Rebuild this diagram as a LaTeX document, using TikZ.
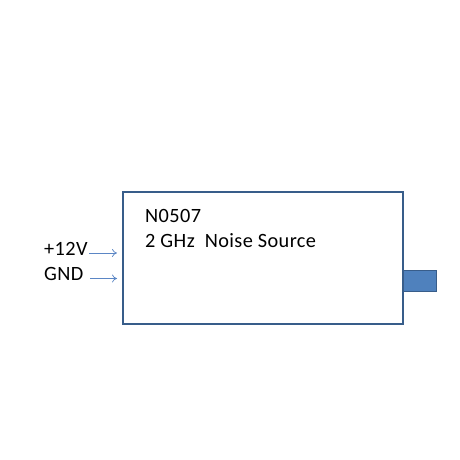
\documentclass[tikz,border=0pt]{standalone}
\usepackage{fontspec}
\setmainfont{Carlito}[LetterSpace=2]
\usetikzlibrary{arrows.meta}
\definecolor{boxline}{HTML}{385D8A}
\definecolor{boxfill}{HTML}{4F81BD}
\definecolor{arrowc}{HTML}{5B86C5}
\begin{document}
\begin{tikzpicture}[x=1pt,y=1pt,
  txt/.style={inner sep=0pt,anchor=base west,font=\fontsize{20.3}{24}\selectfont},
  wire/.style={draw=arrowc,line width=0.7pt,-{To[length=5pt,width=8pt]}}]
\useasboundingbox (0,0) rectangle (460,460);
\draw[boxline,line width=2pt] (123,136) rectangle (403,267.5);
\node[draw=boxline,fill=boxfill,line width=1.2pt,minimum width=33pt,minimum height=20.5pt,inner sep=0pt,anchor=south west] (conn) at (403,168) {};
\node[txt] (name) at (145,237) {N0507};
\node[txt] (desc) at (145,212.5) {2 GHz\ \ Noise Source};
\node[txt] (vcc) at (44,204) {+12V};
\node[txt] (gnd) at (44,179.3) {GND};
\coordinate (vin) at (117,207);
\coordinate (gin) at (117,181.5);
\coordinate (vst) at (89,207);
\coordinate (gst) at (90,181.5);
\draw[wire] (vst) -- (vin);
\draw[wire] (gst) -- (gin);
\end{tikzpicture}
\end{document}
